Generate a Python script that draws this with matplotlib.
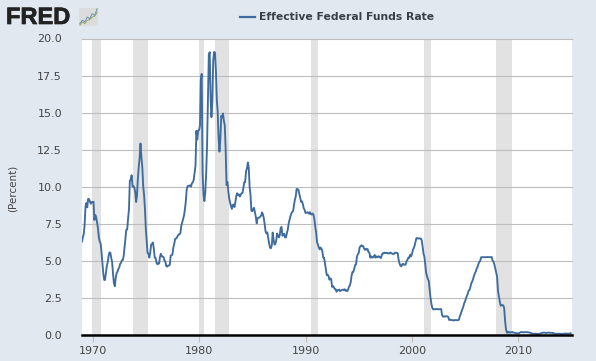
import pandas as pd
import matplotlib
matplotlib.use('Agg')
import matplotlib.pyplot as plt
import matplotlib.dates as mdates
import matplotlib.patheffects as pe

# monthly values, Jan 1969 onward
rate_60s = [6.30, 6.61, 6.79, 7.41, 8.67, 8.90, 8.61, 9.19, 9.15, 9.00, 8.85, 8.97]
rate_70s = [8.98, 8.98, 7.76, 8.10, 7.95, 7.61, 7.21, 6.62, 6.29, 6.20, 5.60, 4.90,
            4.14, 3.72, 3.71, 4.15, 4.63, 4.91, 5.31, 5.57, 5.55, 5.20, 4.91, 4.14,
            3.50, 3.29, 3.83, 4.17, 4.27, 4.46, 4.55, 4.80, 4.87, 5.04, 5.06, 5.33,
            5.94, 6.58, 7.09, 7.12, 7.84, 8.49, 10.40, 10.50, 10.78, 10.01, 10.03, 9.95,
            9.65, 8.97, 9.35, 10.51, 11.31, 11.93, 12.92, 12.01, 11.34, 10.06, 9.45, 8.53,
            7.13, 6.24, 5.54, 5.49, 5.22, 5.55, 6.10, 6.14, 6.24, 5.82, 5.22, 5.20,
            4.87, 4.77, 4.84, 4.82, 5.29, 5.48, 5.31, 5.29, 5.25, 5.02, 4.95, 4.65,
            4.61, 4.68, 4.69, 4.73, 5.35, 5.39, 5.42, 5.90, 6.14, 6.47, 6.51, 6.56,
            6.70, 6.78, 6.79, 6.89, 7.36, 7.60, 7.81, 8.04, 8.45, 8.96, 9.76, 10.03,
            10.07, 10.06, 10.09, 10.01, 10.24, 10.29, 10.47, 10.94, 11.43, 13.77, 13.18, 13.78]
rate_80s = [13.82, 14.13, 17.19, 17.61, 10.98, 9.47, 9.03, 9.61, 10.87, 12.81, 15.85, 18.90,
            19.08, 15.93, 14.70, 15.72, 18.52, 19.10, 19.04, 17.82, 15.87, 15.08, 13.31, 12.37,
            13.22, 14.78, 14.68, 14.94, 14.45, 14.15, 12.59, 10.12, 10.31, 9.71, 9.20, 8.95,
            8.68, 8.51, 8.77, 8.80, 8.63, 8.98, 9.37, 9.56, 9.45, 9.48, 9.34, 9.47,
            9.56, 9.59, 9.91, 10.29, 10.32, 11.06, 11.23, 11.64, 11.30, 9.99, 9.43, 8.38,
            8.35, 8.50, 8.58, 8.27, 7.97, 7.53, 7.88, 7.90, 7.92, 7.99, 8.05, 8.27,
            8.14, 7.86, 7.48, 6.99, 6.85, 6.92, 6.56, 6.17, 5.89, 5.85, 6.04, 6.91,
            6.43, 6.10, 6.13, 6.37, 6.85, 6.73, 6.58, 6.73, 7.22, 7.29, 6.69, 6.77,
            6.83, 6.58, 6.58, 6.87, 7.09, 7.51, 7.75, 8.01, 8.19, 8.30, 8.35, 8.76,
            9.12, 9.36, 9.85, 9.84, 9.81, 9.53, 9.24, 8.99, 9.02, 8.84, 8.55, 8.45]
rate_90s = [8.23, 8.24, 8.28, 8.26, 8.18, 8.29, 8.15, 8.13, 8.20, 8.11, 7.81, 7.31,
            6.91, 6.25, 6.12, 5.91, 5.78, 5.90, 5.82, 5.66, 5.22, 5.21, 4.81, 4.43,
            4.03, 4.06, 3.98, 3.73, 3.82, 3.76, 3.25, 3.30, 3.22, 3.10, 3.09, 2.92,
            3.02, 3.03, 3.07, 2.96, 3.00, 3.04, 3.06, 3.03, 3.09, 2.99, 3.02, 2.96,
            3.05, 3.25, 3.34, 3.56, 4.01, 4.25, 4.26, 4.47, 4.73, 4.76, 5.29, 5.45,
            5.53, 5.92, 5.98, 6.05, 6.01, 6.00, 5.85, 5.74, 5.80, 5.76, 5.80, 5.60,
            5.56, 5.22, 5.31, 5.22, 5.24, 5.27, 5.40, 5.22, 5.30, 5.24, 5.31, 5.29,
            5.25, 5.19, 5.39, 5.51, 5.50, 5.56, 5.52, 5.54, 5.54, 5.50, 5.52, 5.50,
            5.56, 5.51, 5.49, 5.45, 5.49, 5.56, 5.54, 5.55, 5.51, 5.07, 4.83, 4.68,
            4.63, 4.76, 4.81, 4.74, 4.74, 4.76, 4.99, 5.07, 5.22, 5.20, 5.42, 5.30]
rate_00s = [5.45, 5.73, 5.85, 6.02, 6.27, 6.53, 6.54, 6.50, 6.52, 6.51, 6.51, 6.40,
            5.98, 5.49, 5.31, 4.80, 4.21, 3.97, 3.77, 3.65, 3.07, 2.49, 2.09, 1.82,
            1.73, 1.74, 1.73, 1.75, 1.75, 1.75, 1.73, 1.74, 1.75, 1.75, 1.34, 1.24,
            1.24, 1.26, 1.25, 1.26, 1.26, 1.22, 1.01, 1.03, 1.01, 1.01, 1.00, 0.98,
            1.00, 1.01, 1.00, 1.00, 1.00, 1.03, 1.26, 1.43, 1.61, 1.76, 1.93, 2.16,
            2.28, 2.50, 2.63, 2.79, 3.00, 3.04, 3.26, 3.50, 3.62, 3.78, 4.00, 4.16,
            4.29, 4.49, 4.59, 4.79, 4.94, 4.99, 5.24, 5.25, 5.25, 5.25, 5.25, 5.24,
            5.25, 5.26, 5.26, 5.25, 5.25, 5.25, 5.26, 5.02, 4.94, 4.76, 4.49, 4.24,
            3.94, 2.98, 2.61, 2.28, 1.98, 2.00, 2.01, 2.00, 1.81, 0.97, 0.39, 0.16,
            0.15, 0.22, 0.18, 0.15, 0.18, 0.21, 0.16, 0.16, 0.15, 0.12, 0.12, 0.12]
rate_10s = [0.11, 0.13, 0.16, 0.20, 0.20, 0.18, 0.18, 0.19, 0.19, 0.19, 0.19, 0.18,
            0.17, 0.16, 0.14, 0.10, 0.09, 0.09, 0.07, 0.10, 0.08, 0.07, 0.08, 0.07,
            0.08, 0.10, 0.13, 0.14, 0.16, 0.16, 0.16, 0.13, 0.14, 0.16, 0.16, 0.16,
            0.14, 0.15, 0.14, 0.15, 0.11, 0.09, 0.09, 0.08, 0.08, 0.09, 0.08, 0.09,
            0.07, 0.07, 0.08, 0.09, 0.09, 0.10, 0.09, 0.09, 0.09, 0.09, 0.09, 0.12]
rate = rate_60s + rate_70s + rate_80s + rate_90s + rate_00s + rate_10s

rec_start = ['1969-12-01', '1973-11-01', '1980-01-01', '1981-07-01', '1990-07-01', '2001-03-01', '2007-12-01']
rec_end = ['1970-11-01', '1975-03-01', '1980-07-01', '1982-11-01', '1991-03-01', '2001-11-01', '2009-06-01']
y_ticks = [0, 2.5, 5, 7.5, 10, 12.5, 15, 17.5, 20]
x_years = [1970, 1980, 1990, 2000, 2010]
logo_line1 = [1, 2, 1.5, 3, 2.5, 4, 3.5, 5.5]
logo_line2 = [0.5, 1.5, 1, 2, 2.2, 3, 3.2, 4.5]

bg = '#E1E8F0'
months = pd.date_range('1969-01-01', periods=len(rate), freq='MS')

W, H = 596, 361
fig = plt.figure(figsize=(W/100, H/100), dpi=100, facecolor=bg)
ax = fig.add_axes([82/W, 1-335/H, (572-82)/W, (335-38.5)/H], facecolor='white')

for s, e in zip(rec_start, rec_end):
    ax.axvspan(pd.Timestamp(s), pd.Timestamp(e), color='#E2E2E2', lw=0, zorder=1)
for t in y_ticks[1:]:
    ax.axhline(t, color='#BDBDBD', lw=0.8, zorder=2, clip_on=False)
ax.plot(months, rate, color='#3F6C9F', lw=1.35, zorder=3, solid_joinstyle='round')

ax.set_xlim(pd.Timestamp('1969-01-01'), pd.Timestamp('2015-01-15'))
ax.set_ylim(0, 20)
ax.set_yticks(y_ticks)
ax.set_yticklabels(['%.1f' % t for t in y_ticks])
ax.set_xticks([pd.Timestamp(str(y) + '-01-01') for y in x_years])
ax.xaxis.set_major_formatter(mdates.DateFormatter('%Y'))
ax.tick_params(axis='y', length=0, pad=14.4, labelsize=8, labelcolor='#444444')
ax.tick_params(axis='x', length=5, width=0.8, color='#BDBDBD', pad=3, labelsize=8, labelcolor='#444444')
for side in ['left', 'right', 'top']:
    ax.spines[side].set_visible(False)
ax.spines['bottom'].set_color('black')
ax.spines['bottom'].set_linewidth(1.8)
ax.spines['bottom'].set_zorder(5)

fig.text(13/W, 1-188/H, '(Percent)', rotation=90, ha='center', va='center', fontsize=7.5, color='#444444')

# legend in the header
fig.add_artist(plt.Line2D([240/W, 255/W], [1-16.5/H, 1-16.5/H], color='#3F6C9F', lw=1.6))
fig.text(259/W, 1-16.5/H, 'Effective Federal Funds Rate', ha='left', va='center',
         fontsize=7.75, fontweight='bold', color='#3A3F45')

# FRED logo
fig.text(6/W, 1-17.5/H, 'FRED', ha='left', va='center', fontsize=17, fontweight='bold',
         family='Liberation Sans', color='#222222',
         path_effects=[pe.withStroke(linewidth=0.5, foreground='#222222')])
logo = fig.add_axes([79/W, 1-26/H, 19/W, 18/H], facecolor='#DADDDC')
logo.plot(logo_line1, color='#6F8FB0', lw=0.7)
logo.plot(logo_line2, color='#8FA860', lw=0.7)
logo.set_xticks([])
logo.set_yticks([])
for side in logo.spines:
    logo.spines[side].set_visible(False)

fig.savefig('out.png', dpi=100, facecolor=bg)
